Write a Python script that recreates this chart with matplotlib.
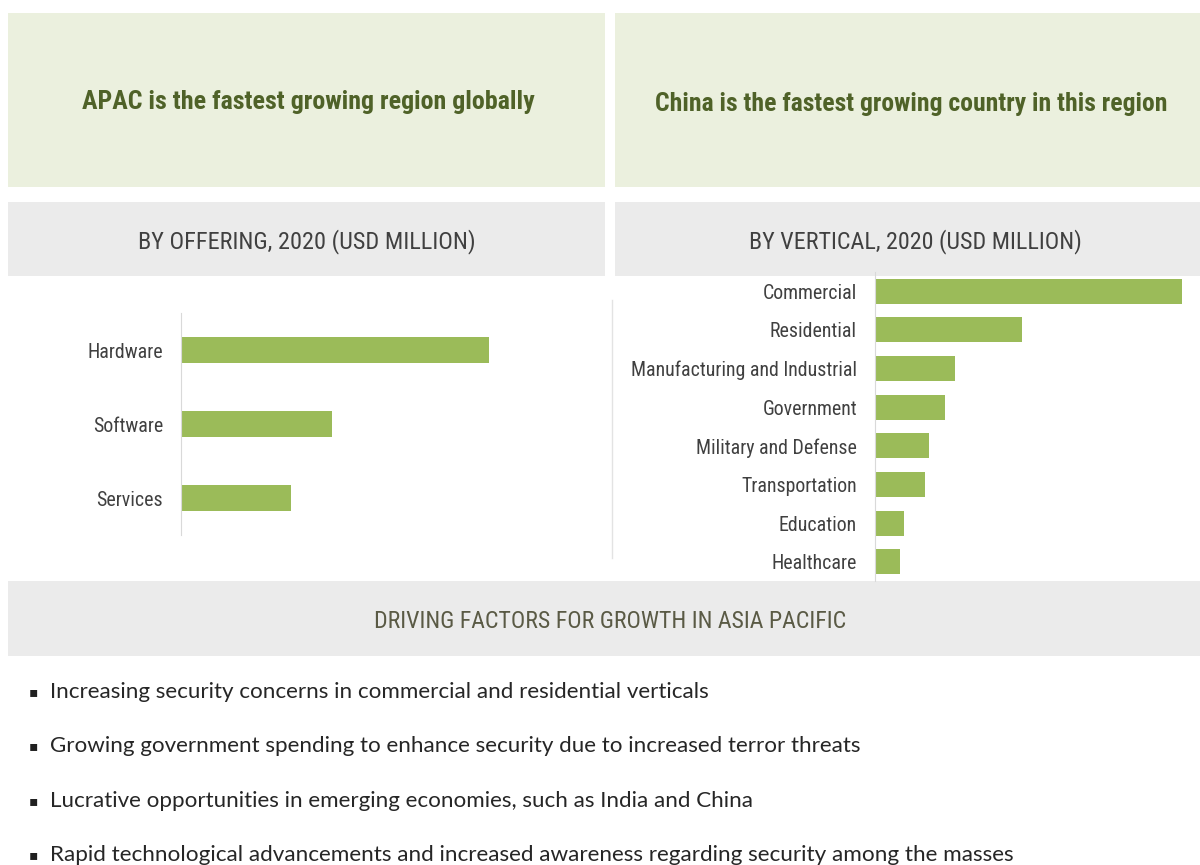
import matplotlib.pyplot as plt
from matplotlib.patches import Rectangle
from matplotlib import font_manager

# data
offerings = ['Hardware', 'Software', 'Services']
offering_values = [308, 151, 110]

verticals = ['Commercial', 'Residential', 'Manufacturing and Industrial', 'Government',
             'Military and Defense', 'Transportation', 'Education', 'Healthcare']
vertical_values = [307, 147, 80, 70, 54, 50, 29, 25]

headlines = ['APAC is the fastest growing region globally',
             'China is the fastest growing country in this region']
subheads = ['BY OFFERING, 2020 (USD MILLION)', 'BY VERTICAL, 2020 (USD MILLION)']
factors_title = 'DRIVING FACTORS FOR GROWTH IN ASIA PACIFIC'
factors = [
    'Increasing security concerns in commercial and residential verticals',
    'Growing government spending to enhance security due to increased terror threats',
    'Lucrative opportunities in emerging economies, such as India and China',
    'Rapid technological advancements and increased awareness regarding security among the masses',
]

# colors
bar_color = '#9BBB59'
green_bg = '#EBF0DE'
gray_bg = '#EBEBEB'
title_color = '#4F6228'
text_color = '#404040'

W, H = 1200, 865
names = {f.name for f in font_manager.fontManager.ttflist}
narrow = next((n for n in ['Liberation Sans Narrow', 'Roboto Condensed', 'Roboto',
                           'Liberation Sans'] if n in names), 'DejaVu Sans')
body = 'Lato' if 'Lato' in names else 'DejaVu Sans'

fig = plt.figure(figsize=(W / 100, H / 100), dpi=100)
fig.patch.set_facecolor('white')
renderer = fig.canvas.get_renderer()


def box(x0, y0, x1, y1, color):
    """Rectangle in pixel coords (top-left origin)."""
    fig.add_artist(Rectangle((x0 / W, 1 - y1 / H), (x1 - x0) / W, (y1 - y0) / H,
                             transform=fig.transFigure, facecolor=color,
                             edgecolor='none', zorder=0))


def txt(x, y, s, width=None, **kw):
    t = fig.text(x / W, 1 - y / H, s, **kw)
    if width:   # scale font so the text spans the width seen in the picture
        bb = t.get_window_extent(renderer)
        t.set_fontsize(t.get_fontsize() * width / bb.width)
    return t


# header boxes
box(8, 13, 605, 187, green_bg)
box(615, 13, 1200, 187, green_bg)
box(8, 202, 605, 276, gray_bg)
box(615, 202, 1200, 276, gray_bg)
box(8, 581, 1200, 656, gray_bg)

txt(308, 102, headlines[0], width=453, ha='center', va='center', fontsize=19,
    fontweight='bold', color=title_color, family=narrow)
txt(911, 104, headlines[1], width=513, ha='center', va='center', fontsize=19,
    fontweight='bold', color=title_color, family=narrow)
txt(307, 242, subheads[0], width=336, ha='center', va='center', fontsize=13,
    color=text_color, family=narrow)
txt(915, 242, subheads[1], width=330, ha='center', va='center', fontsize=13,
    color=text_color, family=narrow)
txt(610, 621, factors_title, width=470, ha='center', va='center', fontsize=13,
    color='#5A5A45', family=narrow)

# separator line between the charts
fig.add_artist(plt.Line2D([612 / W, 612 / W], [1 - 300 / H, 1 - 558 / H],
                          transform=fig.transFigure, color='#E3E3E3', lw=1))

# tick label size from the widest label
probe = fig.text(0, 0, verticals[2], family=narrow, fontsize=12)
tick_size = 12 * 225 / probe.get_window_extent(renderer).width
probe.remove()


def bar_axes(x0, y0, x1, y1, labels, values, height):
    ax = fig.add_axes([x0 / W, 1 - y1 / H, (x1 - x0) / W, (y1 - y0) / H])
    ax.barh(range(len(labels)), values, height=height, color=bar_color)
    ax.set_xlim(0, x1 - x0)
    ax.set_ylim(len(labels) - 0.5, -0.5)
    ax.set_yticks(range(len(labels)))
    ax.set_yticklabels(labels, family=narrow, fontsize=tick_size, color=text_color)
    ax.tick_params(axis='y', length=0, pad=13)
    ax.set_xticks([])
    for s in ['top', 'right', 'bottom']:
        ax.spines[s].set_visible(False)
    ax.spines['left'].set_color('#D9D9D9')
    ax.patch.set_alpha(0)
    return ax


bar_axes(181, 313, 600, 535, offerings, offering_values, 0.34)
bar_axes(875, 272, 1200, 581, verticals, vertical_values, 0.65)

# bullet list
bullet_widths = [657, 807, 699, 959]
for i, line in enumerate(factors):
    y = 692 + i * 54.3
    txt(33, y, '\u25aa', ha='center', va='center', fontsize=10, color='#202020')
    txt(50, y, line, width=bullet_widths[i], ha='left', va='center', fontsize=13,
        color='#262626', family=body)

fig.savefig('out.png', dpi=100)
